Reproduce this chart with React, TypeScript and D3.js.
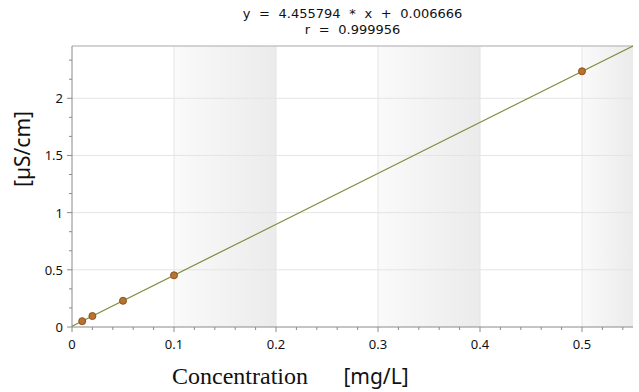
import React from 'react';
import * as d3 from 'd3';

// calibration points
const concentrations = [0.01, 0.02, 0.05, 0.1, 0.5];
const conductivities = [0.051, 0.096, 0.229, 0.452, 2.236];

// fitted line
const slope = 4.455794;
const intercept = 0.006666;
const titleLines = ['y = 4.455794 * x + 0.006666', 'r = 0.999956'];

const xTicks = [0, 0.1, 0.2, 0.3, 0.4, 0.5];
const xTickLabels = ['0', '0.1', '0.2', '0.3', '0.4', '0.5'];
const yTicks = [0, 0.5, 1, 1.5, 2];
const yTickLabels = ['0', '0.5', '1', '1.5', '2'];
const shadedBands = [[0.1, 0.2], [0.3, 0.4], [0.5, 0.55]];

const W = 639;
const H = 392;
const margin = { top: 46, right: 6, bottom: 65, left: 72 };
const FONT = "'Noto Sans', 'DejaVu Sans', sans-serif";

const App = () => {
    const x = d3.scaleLinear().domain([0, 0.55]).range([margin.left, W - margin.right]);
    const y = d3.scaleLinear().domain([0, 2.457]).range([H - margin.bottom, margin.top]);

    const x0 = x.range()[0], x1 = x.range()[1];
    const yBot = y.range()[0], yTop = y.range()[1];

    // minor ticks
    const xMinor = d3.range(0, 0.5501, 0.02).filter(v => Math.abs(v * 10 - Math.round(v * 10)) > 1e-6);
    const yMinor = d3.range(0, 2.457, 0.5 / 3).filter(v => Math.abs(v * 2 - Math.round(v * 2)) > 1e-6);

    const fit = d3.line<number>().x(d => x(d)).y(d => y(slope * d + intercept));

    return (
        <svg width={W} height={H} style={{ position: 'absolute', left: 0, top: 0, background: '#fff' }}>
            <defs>
                <linearGradient id="band" x1="0" x2="1" y1="0" y2="0">
                    <stop offset="0%" stopColor="#fafafa" />
                    <stop offset="100%" stopColor="#ebebeb" />
                </linearGradient>
            </defs>

            {/* shaded bands */}
            {shadedBands.map((b, i) => (
                <rect key={i} x={x(b[0])} y={yTop} width={x(b[1]) - x(b[0])} height={yBot - yTop} fill="url(#band)" />
            ))}

            {/* grid */}
            {xTicks.slice(1).map((t, i) => (
                <line key={'gx' + i} x1={x(t)} x2={x(t)} y1={yTop} y2={yBot} stroke="#e4e4e4" />
            ))}
            {yTicks.slice(1).map((t, i) => (
                <line key={'gy' + i} x1={x0} x2={x1} y1={y(t)} y2={y(t)} stroke="#e4e4e4" />
            ))}

            {/* top frame */}
            <line x1={x0} x2={x1} y1={yTop} y2={yTop} stroke="#c4c4c4" strokeWidth={1.5} />

            {/* axes */}
            <line x1={x0} x2={x1} y1={yBot} y2={yBot} stroke="#8a8a8a" />
            <line x1={x0} x2={x0} y1={yTop} y2={yBot} stroke="#8a8a8a" />
            {xTicks.map((t, i) => (
                <g key={'xt' + i}>
                    <line x1={x(t)} x2={x(t)} y1={yBot} y2={yBot + 5} stroke="#8a8a8a" />
                    <text x={x(t)} y={yBot + 22} textAnchor="middle" fontFamily={FONT} fontSize={13} fill="#111">{xTickLabels[i]}</text>
                </g>
            ))}
            {xMinor.map((t, i) => (
                <line key={'xm' + i} x1={x(t)} x2={x(t)} y1={yBot} y2={yBot + 3} stroke="#8a8a8a" />
            ))}
            {yTicks.map((t, i) => (
                <g key={'yt' + i}>
                    <line x1={x0 - 5} x2={x0} y1={y(t)} y2={y(t)} stroke="#8a8a8a" />
                    <text x={x0 - 9} y={y(t) + 5} textAnchor="end" fontFamily={FONT} fontSize={13} fill="#111">{yTickLabels[i]}</text>
                </g>
            ))}
            {yMinor.map((t, i) => (
                <line key={'ym' + i} x1={x0 - 3} x2={x0} y1={y(t)} y2={y(t)} stroke="#8a8a8a" />
            ))}

            {/* fit line */}
            <path d={fit([0, 0.55]) || ''} fill="none" stroke="#7b8b3a" strokeWidth={1.2} />

            {/* points */}
            {concentrations.map((c, i) => (
                <circle key={'p' + i} cx={x(c)} cy={y(conductivities[i])} r={3.5} fill="#b8732f" stroke="#8c4f22" strokeWidth={1} />
            ))}

            {/* title */}
            {titleLines.map((t, i) => (
                <text key={'t' + i} x={(x0 + x1) / 2} y={18 + i * 16} textAnchor="middle" fontFamily="'DejaVu Sans', sans-serif" fontSize={13} wordSpacing={4.5} fill="#111">{t}</text>
            ))}

            {/* axis labels */}
            <text x={0} y={0} transform={`translate(30, ${149}) rotate(-90)`} textAnchor="middle" fontFamily={FONT} fontSize={21} fill="#111">[µS/cm]</text>
            <text x={240} y={384} textAnchor="middle" fontFamily="'Liberation Serif', 'Times New Roman', serif" fontSize={24} fill="#111">Concentration</text>
            <text x={376} y={384} textAnchor="middle" fontFamily={FONT} fontSize={21} fill="#111">[mg/L]</text>
        </svg>
    );
};

export default App;
